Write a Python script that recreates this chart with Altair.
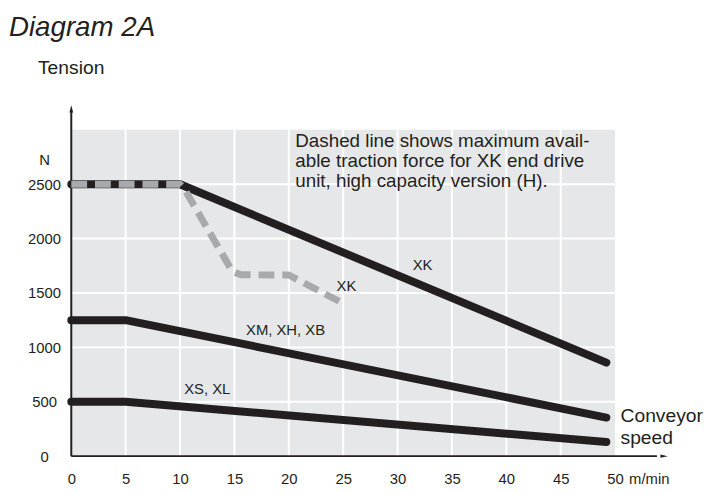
import altair as alt
import pandas as pd

# ---- data ----
speed_xk = [0, 10, 49.2]
tension_xk = [2500, 2500, 860]
speed_xm = [0, 5, 49.2]
tension_xm = [1250, 1250, 355]
speed_xs = [0, 5, 49.2]
tension_xs = [500, 500, 130]
speed_h = [0, 10, 10.5, 14.8, 15.6, 20, 24.7]
tension_h = [2500, 2500, 2440, 1700, 1668, 1665, 1420]

x_ticks = [0, 5, 10, 15, 20, 25, 30, 35, 40, 45, 50]
y_ticks = [0, 500, 1000, 1500, 2000, 2500]
x_unit_pos = 53.1
x_unit = "m/min"
y_unit_pos = 2725
y_unit = "N"

grid_x = [5, 10, 15, 20, 25, 30, 35, 40, 45]
grid_y = [500, 1000, 1500, 2000, 2500]
panel_x_max = [50]
panel_y_max = [3000]
axis_x_end = [54.85]
axis_y_end = [3227]

label_text = ["XK", "XK", "XM, XH, XB", "XS, XL"]
label_x = [32.3, 25.3, 19.7, 12.5]
label_y = [1757, 1560, 1160, 621]

note_lines = ["Dashed line shows maximum avail-",
              "able traction force for XK end drive",
              "unit, high capacity version (H)."]
note_x = [20.6, 20.6, 20.6]
note_y = [2897, 2715, 2533]

speed_label = ["Conveyor", "speed"]
speed_label_x = [50.5, 50.5]
speed_label_y = [366, 166]

title_text = "Diagram 2A"
y_title_text = "Tension"

FONT = "Liberation Sans"
INK = "#231f20"

xscale = alt.Scale(domain=[0, 55], nice=False, zero=False)
yscale = alt.Scale(domain=[0, 3250], nice=False, zero=False)

x_axis = alt.Axis(values=x_ticks + [x_unit_pos], title=None, domain=False, ticks=False,
                  tickSize=0, grid=False, labelPadding=16, labelFont=FONT, labelFontSize=15,
                  labelColor=INK, labelFlush=False, labelOverlap=False, format="d",
                  labelExpr=f"datum.value == {x_unit_pos} ? '{x_unit}' : datum.label")
y_axis = alt.Axis(values=y_ticks + [y_unit_pos], title=None, domain=False, ticks=False,
                  tickSize=0, grid=False, labelPadding=27.5, labelAlign="center",
                  labelFont=FONT, labelFontSize=15, labelColor=INK, labelFlush=False,
                  labelOverlap=False, format="d",
                  labelExpr=f"datum.value == {y_unit_pos} ? '{y_unit}' : datum.label")


def X(field="x"):
    return alt.X(f"{field}:Q", scale=xscale, axis=x_axis)


def Y(field="y"):
    return alt.Y(f"{field}:Q", scale=yscale, axis=y_axis)


# background panel
bg = alt.Chart(pd.DataFrame({"x": [0], "x2": panel_x_max, "y": [0], "y2": panel_y_max})).mark_rect(
    color="#e6e7e8").encode(x=X(), x2="x2:Q", y=Y(), y2="y2:Q")

vgrid = alt.Chart(pd.DataFrame({"x": grid_x, "y": [0] * len(grid_x),
                                "y2": panel_y_max * len(grid_x)})).mark_rule(
    color="white", strokeWidth=2).encode(x=X(), y=Y(), y2="y2:Q")
hgrid = alt.Chart(pd.DataFrame({"y": grid_y, "x": [0] * len(grid_y),
                                "x2": panel_x_max * len(grid_y)})).mark_rule(
    color="white", strokeWidth=2).encode(y=Y(), x=X(), x2="x2:Q")

# axis lines with arrows
xline = alt.Chart(pd.DataFrame({"x": [0], "x2": [axis_x_end[0] - 1], "y": [0]})).mark_rule(
    color=INK, strokeWidth=2).encode(x=X(), x2="x2:Q", y=Y())
yline = alt.Chart(pd.DataFrame({"x": [0], "y": [0], "y2": [axis_y_end[0] - 60]})).mark_rule(
    color=INK, strokeWidth=2).encode(x=X(), y=Y(), y2="y2:Q")
xarrow = alt.Chart(pd.DataFrame({"x": axis_x_end, "y": [0]})).mark_point(
    shape="M0,0L-2,-0.42L-2,0.42Z", size=56, filled=True, opacity=1, color=INK,
    strokeWidth=0).encode(x=X(), y=Y())
yarrow = alt.Chart(pd.DataFrame({"x": [0], "y": axis_y_end})).mark_point(
    shape="M0,0L0.5,2L-0.5,2Z", size=56, filled=True, opacity=1, color=INK,
    strokeWidth=0).encode(x=X(), y=Y())


def curve(xs, ys):
    return pd.DataFrame({"x": xs, "y": ys, "o": list(range(len(xs)))})


solid_df = pd.concat([
    curve(speed_xk, tension_xk).assign(s="XK"),
    curve(speed_xm, tension_xm).assign(s="XM"),
    curve(speed_xs, tension_xs).assign(s="XS"),
])
solid = alt.Chart(solid_df).mark_line(
    color=INK, strokeWidth=8, strokeCap="round", strokeJoin="round").encode(
    x=X(), y=Y(), detail="s:N", order="o:Q")

dashed = alt.Chart(curve(speed_h, tension_h)).mark_line(
    color="#a7a9ac", strokeWidth=7, strokeDash=[16, 8], strokeCap="butt",
    strokeJoin="round").encode(x=X(), y=Y(), order="o:Q")

labels = alt.Chart(pd.DataFrame({"x": label_x, "y": label_y, "t": label_text})).mark_text(
    font=FONT, fontSize=15, color=INK, align="center", baseline="middle").encode(
    x=X(), y=Y(), text="t:N")

note = alt.Chart(pd.DataFrame({"x": note_x, "y": note_y, "t": note_lines})).mark_text(
    font=FONT, fontSize=19, color=INK, align="left", baseline="middle").encode(
    x=X(), y=Y(), text="t:N")

speed_txt = alt.Chart(pd.DataFrame({"x": speed_label_x, "y": speed_label_y,
                                    "t": speed_label})).mark_text(
    font=FONT, fontSize=19.5, color=INK, align="left", baseline="middle").encode(
    x=X(), y=Y(), text="t:N")

title = alt.Chart(pd.DataFrame({"t": [title_text]})).mark_text(
    font=FONT, fontSize=28, fontStyle="italic", color=INK, align="left",
    baseline="alphabetic").encode(x=alt.value(-63), y=alt.value(-67.5), text="t:N")
ytitle = alt.Chart(pd.DataFrame({"t": [y_title_text]})).mark_text(
    font=FONT, fontSize=19.5, color=INK, align="left", baseline="alphabetic").encode(
    x=alt.value(-33.7), y=alt.value(-29), text="t:N")

chart = alt.layer(
    bg, vgrid, hgrid, xline, yline, xarrow, yarrow, solid, dashed,
    labels, note, speed_txt, title, ytitle
).properties(
    width=605, height=357.5,
    autosize=alt.AutoSizeParams(type="none"),
    padding={"left": 64, "top": 93, "right": 40, "bottom": 30},
).configure_view(stroke=None)

chart.save("out.html", embed_options={"renderer": "svg", "actions": False})
